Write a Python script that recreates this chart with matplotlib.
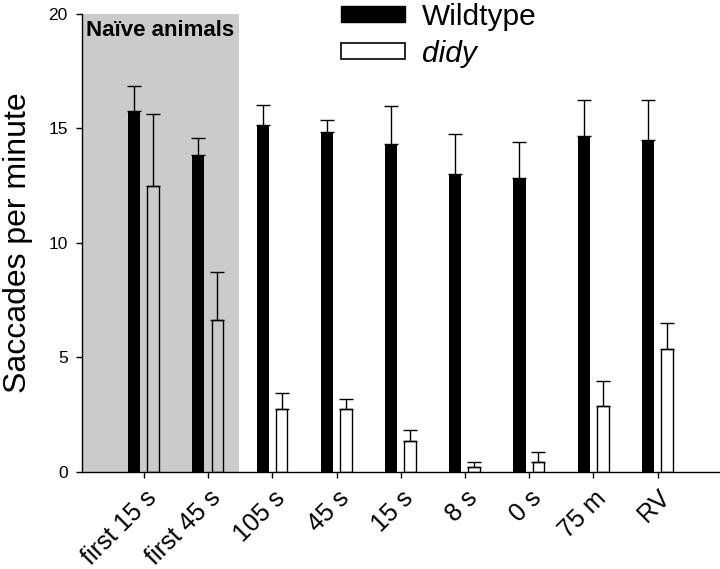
import numpy as np
import matplotlib; matplotlib.use("Agg")
import matplotlib.pyplot as plt
from matplotlib.patches import Patch

plt.rcParams["font.family"] = ["Liberation Sans", "DejaVu Sans"]

conditions = ["first 15 s", "first 45 s", "105 s", "45 s", "15 s", "8 s", "0 s", "75 m", "RV"]
wt_mean = [15.75, 13.85, 15.17, 14.84, 14.33, 13.0, 12.83, 14.68, 14.5]
wt_top = [16.85, 14.59, 16.03, 15.39, 15.96, 14.75, 14.42, 16.24, 16.24]
didy_mean = [12.47, 6.65, 2.77, 2.73, 1.34, 0.23, 0.44, 2.89, 5.35]
didy_top = [15.64, 8.75, 3.47, 3.19, 1.82, 0.45, 0.89, 3.98, 6.5]
n_naive = 2   # first two conditions are the naive animals

x = np.arange(len(conditions))
w = 0.19
wt_mean, wt_top = np.array(wt_mean), np.array(wt_top)
didy_mean, didy_top = np.array(didy_mean), np.array(didy_top)

fig = plt.figure(figsize=(7.2, 5.69), dpi=100)
ax = fig.add_axes([0.1135, 0.1705, 0.8865, 0.805])

ax.axvspan(-0.97, n_naive - 0.52, ymin=0, ymax=1, color="#cbcbcb", lw=0, zorder=0)
ax.text(-0.9, 19.75, "Naïve animals", fontsize=16, fontweight="bold", va="top", ha="left")

ax.bar(x - 0.153, wt_mean, w, color="black", zorder=2)
ax.bar(x + 0.143, didy_mean, w * 0.96, facecolor="none", edgecolor="black", lw=1.0, zorder=2)
ax.errorbar(x - 0.153, wt_mean, yerr=[np.zeros_like(wt_mean), wt_top - wt_mean],
            fmt="none", ecolor="black", elinewidth=1.0, capsize=4.7, capthick=1.0, zorder=1)
ax.errorbar(x + 0.143, didy_mean, yerr=[np.zeros_like(didy_mean), didy_top - didy_mean],
            fmt="none", ecolor="black", elinewidth=1.0, capsize=4.7, capthick=1.0, zorder=1)

ax.set_xlim(-0.97, 8.97)
ax.set_ylim(0, 20)
ax.set_yticks([0, 5, 10, 15, 20])
ax.set_xticks(x)
ax.set_xticklabels(conditions, rotation=45, ha="right", rotation_mode="anchor", fontsize=18)
ax.tick_params(axis="y", labelsize=12.5, length=4, width=1, pad=6)
ax.tick_params(axis="x", length=4, width=1, pad=6)
for s in ("top", "right"):
    ax.spines[s].set_visible(False)
for s in ("left", "bottom"):
    ax.spines[s].set_linewidth(1.0)
ax.set_ylabel("Saccades per minute", fontsize=23, labelpad=11)

handles = [Patch(facecolor="black", edgecolor="black", label="Wildtype"),
           Patch(facecolor="white", edgecolor="black", lw=1.2, label="didy")]
leg = fig.legend(handles=handles, loc="upper left", bbox_to_anchor=(0.453, 1.021), frameon=False,
                 fontsize=21.5, handlelength=2.15, handleheight=0.45, handletextpad=0.55,
                 labelspacing=0.3, borderpad=0)
leg.get_texts()[1].set_style("italic")

fig.savefig("out.png", dpi=100)
